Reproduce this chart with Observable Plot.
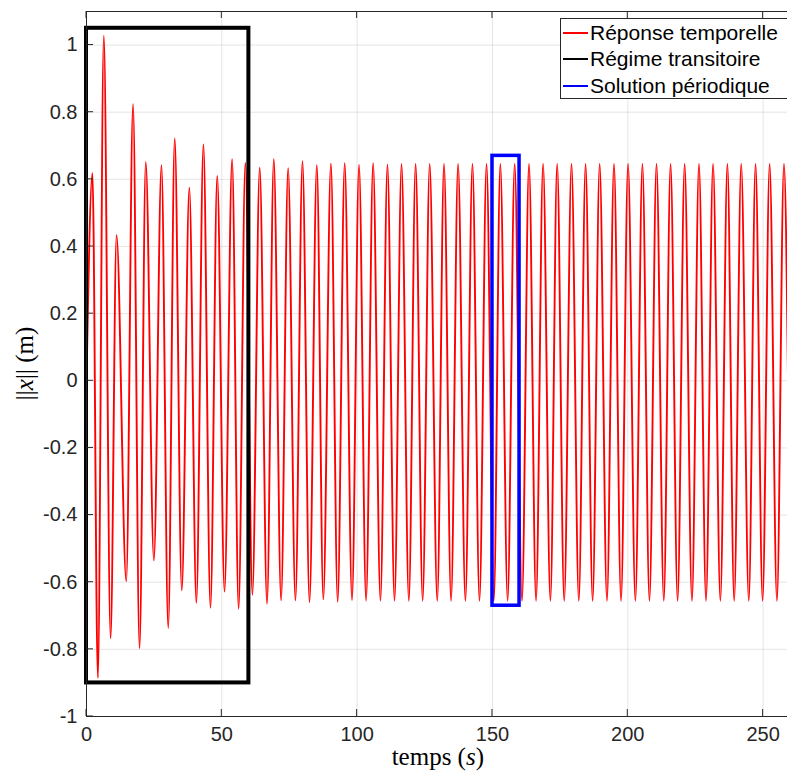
<!DOCTYPE html>
<html>
<head>
<meta charset="utf-8">
<script src="https://cdn.jsdelivr.net/npm/d3@7"></script>
<script src="https://cdn.jsdelivr.net/npm/@observablehq/plot@0.6"></script>
<style>
  html, body { margin: 0; padding: 0; background: #fff; }
  #wrap { position: relative; width: 787px; height: 774px; overflow: hidden; }
  #legend {
    position: absolute; left: 560px; top: 18px; width: 240px; height: 81px;
    border: 1px solid #262626; background: #fff; box-sizing: border-box;
    font-family: "Liberation Sans", Arial, sans-serif; font-size: 21px; color: #000;
  }
  .row { position: absolute; left: 0; height: 26px; display: flex; align-items: center; }
  .sw { width: 25px; margin-left: 2px; margin-right: 2px; }
</style>
</head>
<body>
<div id="wrap"></div>
<script>
// Times (s) of the successive extrema of the response
const extremaT = [0, 2.2, 4.2, 6.4, 8.9, 11.1, 14.7, 17.2, 19.6, 21.9, 24.9, 27.7, 30.2, 32.6, 35.2, 38.0,
  40.6, 43.2, 45.8, 48.3, 51.0, 53.8, 56.2, 58.7, 61.3, 64.0, 66.7, 69.2, 71.9, 74.5, 77.2, 79.8,
  82.4, 85.1, 87.5, 90.3, 92.8, 95.4, 98.1, 100.7, 103.3, 105.9, 108.6, 111.2, 113.8, 116.4, 119.1,
  121.6, 124.2, 126.8, 129.6, 132.1, 134.7, 137.3, 140.0, 142.6, 145.2, 147.8, 150.5, 152.9, 155.6,
  158.2, 160.9, 163.5, 166.1, 168.7, 171.4, 173.9, 176.5, 179.2, 181.9, 184.4, 187.0, 189.6, 192.3,
  194.9, 197.5, 200.1, 202.8, 205.4, 208.0, 210.6, 213.3, 215.8, 218.4, 221.0, 223.7, 226.3, 228.9,
  231.5, 234.2, 236.8, 239.3, 241.9, 244.7, 247.2, 249.8, 252.4, 255.1, 257.7, 259.2];
// Values ||x|| (m) at those extrema
const extremaV = [0, 0.618, -0.885, 1.028, -0.767, 0.434, -0.597, 0.824, -0.797, 0.652, -0.535, 0.642, -0.736, 0.722, -0.624, 0.575,
  -0.661, 0.704, -0.676, 0.610, -0.628, 0.660, -0.679, 0.649, -0.637, 0.635, -0.664, 0.660, -0.654, 0.633, -0.654, 0.654,
  -0.659, 0.642, -0.651, 0.647, -0.658, 0.648, -0.653, 0.643, -0.655, 0.648, -0.655, 0.644, -0.655, 0.646, -0.655,
  0.646, -0.655, 0.646, -0.655, 0.646, -0.655, 0.646, -0.655, 0.646, -0.655, 0.646, -0.655, 0.646, -0.655,
  0.646, -0.655, 0.646, -0.655, 0.646, -0.655, 0.646, -0.655, 0.646, -0.655, 0.646, -0.655, 0.646, -0.655,
  0.646, -0.655, 0.646, -0.655, 0.646, -0.655, 0.646, -0.655, 0.646, -0.655, 0.646, -0.655, 0.646, -0.655,
  0.646, -0.655, 0.646, -0.655, 0.646, -0.655, 0.646, -0.655, 0.646, -0.655, 0.646, 0.0];

const xTicks = [0, 50, 100, 150, 200, 250];
const yTicks = [-1, -0.8, -0.6, -0.4, -0.2, 0, 0.2, 0.4, 0.6, 0.8, 1];

// Highlight boxes: [t1, t2, v1, v2]
const transientBox = [0, 60, -0.9, 1.05];
const periodicBox = [150, 160, -0.67, 0.67];

const legendLabels = ["Réponse temporelle", "Régime transitoire", "Solution périodique"];
const legendColors = ["#ff0000", "#000000", "#0000ff"];

const series = extremaT.map((t, i) => ({t, v: extremaV[i]}));
const boxes = [
  {x1: transientBox[0], x2: transientBox[1], y1: transientBox[2], y2: transientBox[3], c: "#000000"},
  {x1: periodicBox[0], x2: periodicBox[1], y1: periodicBox[2], y2: periodicBox[3], c: "#0000ff"}
];
const fmt = d => String(+d.toFixed(1));
const axisColor = "#262626";

const chart = Plot.plot({
  width: 787, height: 774,
  marginLeft: 86, marginRight: 0, marginTop: 11, marginBottom: 58,
  x: {domain: [0, 260], range: [86, 789.7]},
  y: {domain: [-1, 1.1]},
  style: {fontFamily: "'Liberation Sans', Arial, sans-serif", fontSize: "20px", color: axisColor, background: "#fff", overflow: "visible"},
  marks: [
    Plot.gridX(xTicks, {stroke: axisColor, strokeOpacity: 0.12, strokeWidth: 1}),
    Plot.gridY(yTicks, {stroke: axisColor, strokeOpacity: 0.12, strokeWidth: 1}),
    Plot.line(series, {x: "t", y: "v", stroke: "#ff0000", strokeWidth: 1.9, curve: "monotone-x"}),
    Plot.rect(boxes.slice(0, 1), {x1: "x1", x2: "x2", y1: "y1", y2: "y2", stroke: "c", fill: "none", strokeWidth: 4}),
    Plot.rect(boxes.slice(1), {x1: "x1", x2: "x2", y1: "y1", y2: "y2", stroke: "c", fill: "none", strokeWidth: 3.5}),
    Plot.frame({stroke: axisColor, strokeWidth: 1}),
    Plot.axisX(xTicks, {anchor: "bottom", tickSize: 0, tickPadding: 10, tickFormat: fmt, fill: axisColor, fontSize: 20}),
    Plot.axisY(yTicks, {anchor: "left", tickSize: 0, tickPadding: 9, tickFormat: fmt, fill: axisColor, fontSize: 20})
  ]
});

const wrap = document.getElementById("wrap");
wrap.appendChild(chart);

const svg = d3.select(chart);
const sx = chart.scale("x"), sy = chart.scale("y");
const X0 = sx.apply(0), Yb = sy.apply(-1), Yt = sy.apply(1.1);

// Inward ticks (box style: bottom, top, left) through the plot's scales
const tg = svg.append("g").attr("stroke", axisColor).attr("stroke-width", 1);
xTicks.forEach(t => {
  const px = sx.apply(t);
  tg.append("line").attr("x1", px).attr("x2", px).attr("y1", Yb).attr("y2", Yb - 7);
  tg.append("line").attr("x1", px).attr("x2", px).attr("y1", Yt).attr("y2", Yt + 7);
});
yTicks.forEach(v => {
  const py = sy.apply(v);
  tg.append("line").attr("x1", X0).attr("x2", X0 + 7).attr("y1", py).attr("y2", py);
});

// Axis titles (LaTeX-like serif, italic variables)
const xl = svg.append("text")
  .attr("x", (sx.apply(0) + sx.apply(260)) / 2).attr("y", 765)
  .attr("text-anchor", "middle")
  .style("font-family", "'Liberation Serif', 'DejaVu Serif', serif").style("font-size", "25px").attr("fill", "#000");
xl.append("tspan").text("temps (");
xl.append("tspan").text("s").style("font-style", "italic");
xl.append("tspan").text(")");

const yl = svg.append("text")
  .attr("transform", `translate(33, ${(Yb + Yt) / 2}) rotate(-90)`)
  .attr("text-anchor", "middle")
  .style("font-family", "'Liberation Serif', 'DejaVu Serif', serif").style("font-size", "25px").attr("fill", "#000");
yl.append("tspan").text("||");
yl.append("tspan").text("x").style("font-style", "italic");
yl.append("tspan").text("|| (m)");

// Legend
const legend = document.createElement("div");
legend.id = "legend";
legendLabels.forEach((lab, i) => {
  const row = document.createElement("div");
  row.className = "row";
  row.style.top = (1 + i * 26.4) + "px";
  const sw = document.createElement("div");
  sw.className = "sw";
  sw.style.borderTop = (i === 0 ? 2 : 2.6) + "px solid " + legendColors[i];
  const tx = document.createElement("span");
  tx.textContent = lab;
  row.appendChild(sw); row.appendChild(tx);
  legend.appendChild(row);
});
wrap.appendChild(legend);
</script>
</body>
</html>
